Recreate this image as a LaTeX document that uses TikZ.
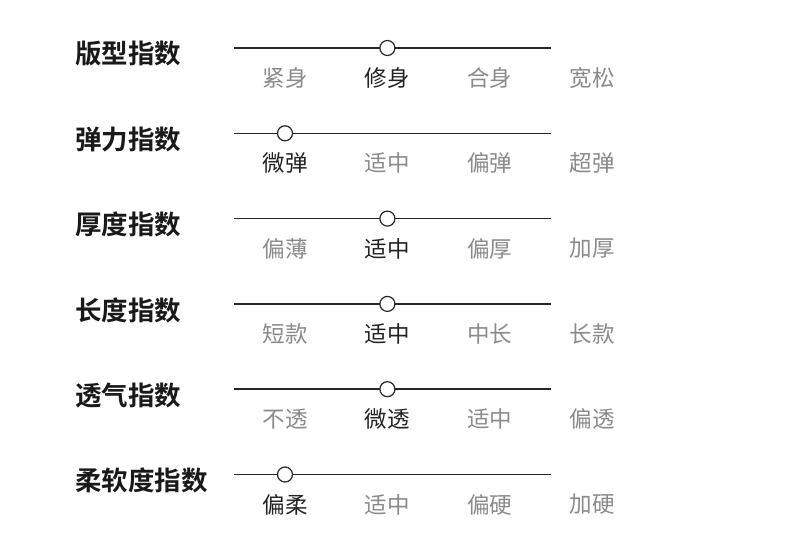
\documentclass[tikz,border=0pt]{standalone}
\usepackage{fontspec}
\newfontfamily\cjk{Noto Sans CJK SC}
\newfontfamily\cjkb{Noto Sans CJK SC Bold}
\definecolor{inact}{HTML}{8A8A8A}
\definecolor{act}{HTML}{222222}
\begin{document}
\begin{tikzpicture}[x=1pt,y=-1pt,
  title/.style={anchor=west,inner sep=0pt,font=\cjkb\fontsize{26.5}{26.5}\selectfont,text=black!90},
  lbl/.style={inner sep=0pt,font=\cjk\fontsize{22.5}{22.5}\selectfont,text=inact},
  actlbl/.style={lbl,text=act},
  track/.style={line width=1.5pt,draw=black!85},
  knob/.style={circle,draw=black!85,line width=1.2pt,fill=white,minimum size=15pt,inner sep=0pt}]
\useasboundingbox (0,0) rectangle (790,554);
\foreach \i/\t/\a/\b/\c/\d/\k in {
  0/版型指数/紧身/修身/合身/宽松/2,
  1/弹力指数/微弹/适中/偏弹/超弹/1,
  2/厚度指数/偏薄/适中/偏厚/加厚/2,
  3/长度指数/短款/适中/中长/长款/2,
  4/透气指数/不透/微透/适中/偏透/2,
  5/柔软度指数/偏柔/适中/偏硬/加硬/1}{
  \pgfmathsetmacro{\y}{48+85.3*\i}
  \node[title] (t\i) at (75,\y+6) {\t};
  \coordinate (s\i) at (234,\y);
  \coordinate (e\i) at (551,\y);
  \draw[track] (s\i) -- (e\i);
  \foreach \j/\txt in {1/\a,2/\b,3/\c,4/\d}{
    \pgfmathsetmacro{\xx}{285+102.4*(\j-1)}
    \ifnum\j=\k
      \node[actlbl] (l\i\j) at (\xx,\y+30) {\txt};
    \else
      \node[lbl] (l\i\j) at (\xx,\y+30) {\txt};
    \fi
  }
  \pgfmathsetmacro{\kx}{285+102.4*(\k-1)}
  \node[knob] (k\i) at (\kx,\y) {};
}
\end{tikzpicture}
\end{document}
